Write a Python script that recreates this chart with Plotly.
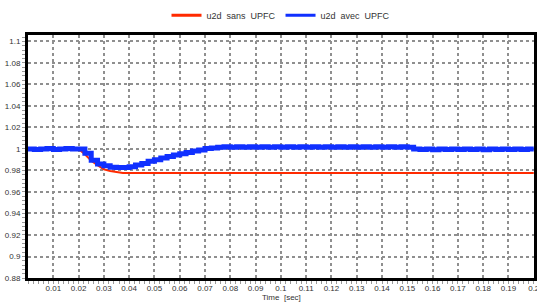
import plotly.graph_objects as go

dt = 0.0025
t = [round(i * dt, 4) for i in range(81)]

sans_upfc = ([1.0] * 9 +
             [0.995, 0.989, 0.985, 0.981, 0.9795, 0.9785, 0.9777] +
             [0.9777] * 65)

avec_upfc = ([1.0, 0.9995, 1.0, 1.0005, 0.9995, 1.0, 1.0005, 1.0, 1.0,
              0.996, 0.9895, 0.986, 0.9845, 0.983, 0.9828, 0.9828, 0.9835,
              0.985, 0.9865, 0.9885, 0.990, 0.9915, 0.993, 0.9945, 0.9955,
              0.9967, 0.998, 0.999, 1.0005, 1.001, 1.0015] +
             [1.002, 1.0017] * 15 +
             [1.0, 0.9995, 1.0, 0.9993, 1.0, 0.9996, 1.0, 0.9994, 1.0, 0.9995,
              1.0, 0.9993, 1.0, 0.9996, 1.0, 0.9995, 1.0, 0.9994, 1.0, 1.0])

x_ticks = [round(0.01 * i, 2) for i in range(1, 21)]
x_labels = [f"{v:g}" for v in x_ticks]
y_ticks = [round(0.88 + 0.02 * i, 2) for i in range(12)]
y_labels = [f"{v:g}" for v in y_ticks]

RED = "#ff2a00"
BLUE = "#1030ff"

fig = go.Figure()
fig.add_trace(go.Scatter(x=t, y=sans_upfc, mode="lines", showlegend=False,
                         line=dict(color=RED, width=2)))
fig.add_trace(go.Scatter(x=t, y=avec_upfc, mode="lines", showlegend=False,
                         line=dict(color=BLUE, width=5, shape="hv")))
fig.add_trace(go.Scatter(x=[None], y=[None], mode="lines", name="u2d  sans  UPFC",
                         line=dict(color=RED, width=3)))
fig.add_trace(go.Scatter(x=[None], y=[None], mode="lines", name="u2d  avec  UPFC",
                         line=dict(color=BLUE, width=3)))

axis_common = dict(showline=True, linecolor="black", linewidth=3, mirror=True,
                   showgrid=True, gridcolor="#8f8f8f", gridwidth=2, griddash="dot",
                   zeroline=False, tickcolor="#9a9a9a", automargin=False,
                   ticklabeloverflow="allow",
                   tickfont=dict(size=8, color="#333333"))

fig.update_xaxes(range=[0, 0.2001], tickvals=x_ticks, ticktext=x_labels, ticks="",
                 minor=dict(dtick=0.002, ticks="outside", ticklen=3, tickcolor="#9a9a9a", showgrid=False),
                 **axis_common)
fig.update_yaxes(range=[0.88, 1.106], tickvals=y_ticks, ticktext=y_labels,
                 ticks="outside", ticklen=3,
                 minor=dict(dtick=0.004, ticks="outside", ticklen=3, tickcolor="#9a9a9a", showgrid=False),
                 **axis_common)

fig.add_annotation(text="Time  [sec]", xref="paper", yref="paper", x=0.5, y=0,
                   yshift=-19, xanchor="center", yanchor="middle", showarrow=False,
                   font=dict(size=8, color="#333333"))

fig.update_layout(
    width=537, height=303,
    margin=dict(l=28, r=3, t=35, b=25),
    paper_bgcolor="white", plot_bgcolor="white",
    font=dict(family="Liberation Sans, Arial, sans-serif", size=9, color="#333333"),
    showlegend=True,
    legend=dict(orientation="h", x=0.5, xref="paper", xanchor="center", y=0.95,
                yref="container", yanchor="middle", font=dict(size=9),
                tracegroupgap=0),
)

fig.write_html("out.html", config={"displayModeBar": False},
               post_script="document.body.style.margin='0';document.body.style.overflow='hidden';")
